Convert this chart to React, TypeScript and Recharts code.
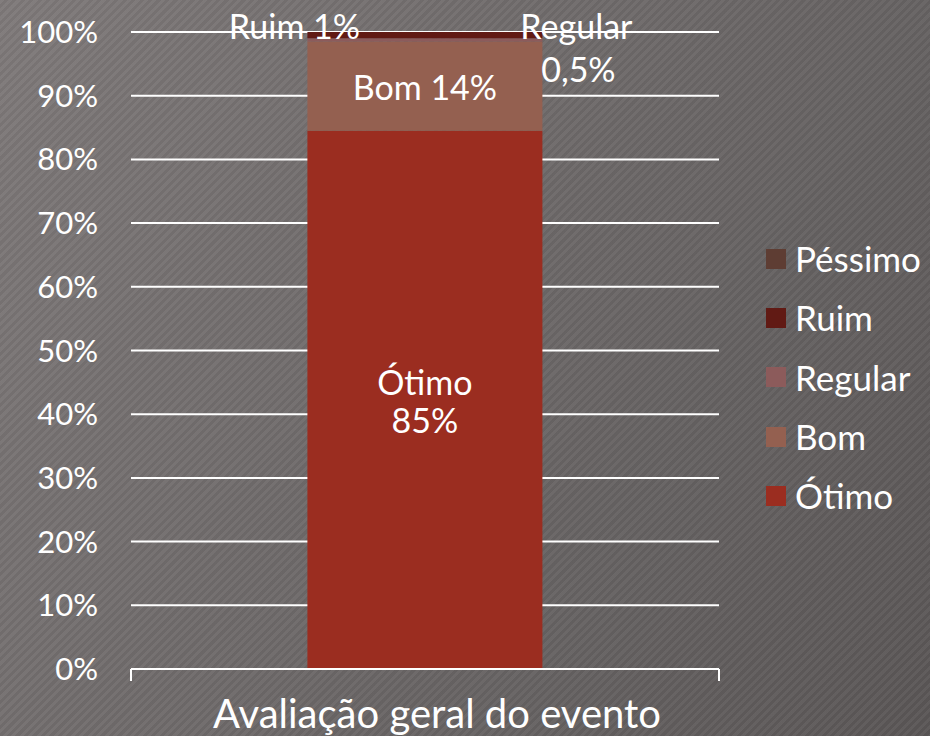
import { BarChart, Bar, XAxis, YAxis, CartesianGrid, LabelList } from 'recharts'

const categories = ['Avaliação geral do evento']
const seriesNames = ['Ótimo', 'Bom', 'Regular', 'Ruim', 'Péssimo']
const seriesValues = [84.5, 14, 0.5, 1, 0]
const valueLabels = ['85%', '14%', '0,5%', '1%', '']
const seriesColors = ['#9b2d20', '#946050', '#8c5b5b', '#611a14', '#5e3d33']
const yTicks = [0, 10, 20, 30, 40, 50, 60, 70, 80, 90, 100]

const data = categories.map((category) => {
  const row: Record<string, string | number> = { category }
  seriesNames.forEach((name, i) => {
    row[name] = seriesValues[i]
  })
  return row
})

const FONT = 'Lato, "Open Sans", sans-serif'

// each segment gets its label placed a bit differently, like in the slide
function makeLabel(index: number) {
  return (props: any) => {
    const { x, y, width, height } = props
    const name = seriesNames[index]
    const txt = valueLabels[index]
    if (!txt) return null
    const common = { fill: '#fff', fontSize: 34, textAnchor: 'middle' as const, dominantBaseline: 'central' as const }
    if (name === 'Ótimo') {
      const cx = x + width / 2
      const cy = y + height / 2
      return (
        <g>
          <text x={cx} y={cy - 18} {...common}>{name}</text>
          <text x={cx} y={cy + 20} {...common}>{txt}</text>
        </g>
      )
    }
    if (name === 'Bom') {
      return <text x={x + width / 2} y={y + height / 2} {...common}>{`${name} ${txt}`}</text>
    }
    if (name === 'Ruim') {
      return <text x={x - 13} y={y - 7} {...common}>{`${name} ${txt}`}</text>
    }
    // Regular
    return (
      <g>
        <text x={x + width + 34} y={y - 13} {...common}>{name}</text>
        <text x={x + width + 36} y={y + 30} {...common}>{txt}</text>
      </g>
    )
  }
}

// category label plus the short tick marks at both ends of the axis
function CategoryTick(props: any) {
  const { x, y, payload, width, visibleTicksCount } = props
  const band = (Number(width) || 588) / (visibleTicksCount || 1)
  const left = x - band / 2
  const right = x + band / 2
  const axisY = y - 10
  return (
    <g>
      <line x1={left} x2={left} y1={axisY} y2={axisY + 12} stroke="#fff" strokeWidth={2} />
      <line x1={right} x2={right} y1={axisY} y2={axisY + 12} stroke="#fff" strokeWidth={2} />
      <text x={x + 12} y={y + 34} fill="#fff" fontSize={40} textAnchor="middle" dominantBaseline="central">
        {payload.value}
      </text>
    </g>
  )
}

export default function App() {
  return (
    <div
      style={{
        position: 'absolute',
        left: 0,
        top: 0,
        width: 930,
        height: 736,
        fontFamily: FONT,
        background:
          'repeating-linear-gradient(135deg, rgba(255,255,255,0.035) 0px, rgba(255,255,255,0.035) 3px, rgba(0,0,0,0.035) 3px, rgba(0,0,0,0.035) 6px), linear-gradient(120deg, #7e7979 0%, #6b6767 55%, #5a5656 100%)',
      }}
    >
      <BarChart width={930} height={736} data={data} margin={{ top: 32, right: 211, bottom: 0, left: 0 }} barCategoryGap="30%">
        <CartesianGrid vertical={false} stroke="#fff" strokeWidth={2} />
        <XAxis
          dataKey="category"
          height={67}
          axisLine={{ stroke: '#fff', strokeWidth: 2 }}
          tickLine={false}
          tickSize={0}
          tickMargin={10}
          tick={<CategoryTick />}
        />
        <YAxis
          width={131}
          domain={[0, 100]}
          ticks={yTicks}
          tickFormatter={(v) => `${v}%`}
          axisLine={false}
          tickLine={false}
          tickSize={0}
          tickMargin={33}
          tick={{ fill: '#fff', fontSize: 31 }}
        />
        {seriesNames.map((name, i) => (
          <Bar key={name} dataKey={name} stackId="a" fill={seriesColors[i]} isAnimationActive={false}>
            <LabelList dataKey={name} content={makeLabel(i)} />
          </Bar>
        ))}
      </BarChart>
      <div style={{ position: 'absolute', left: 766, top: 229, color: '#fff', fontSize: 35 }}>
        {seriesNames
          .map((name, i) => ({ name, color: seriesColors[i] }))
          .reverse()
          .map((item) => (
            <div key={item.name} style={{ display: 'flex', alignItems: 'center', height: 59.3 }}>
              <span style={{ width: 20, height: 20, background: item.color, marginRight: 9, display: 'inline-block' }} />
              <span style={{ lineHeight: 1 }}>{item.name}</span>
            </div>
          ))}
      </div>
    </div>
  )
}
